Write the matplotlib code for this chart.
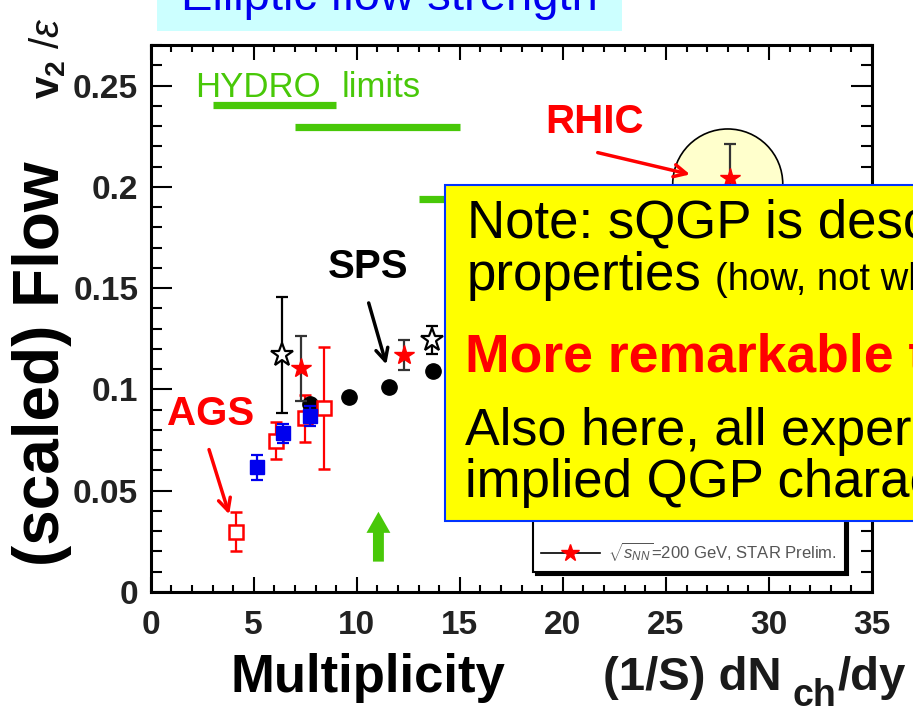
import matplotlib
matplotlib.use("Agg")
import matplotlib.pyplot as plt
from matplotlib.ticker import MultipleLocator, FixedLocator
from matplotlib.patches import Rectangle, Ellipse, FancyArrow
from matplotlib.lines import Line2D

plt.rcParams['font.family'] = ['Liberation Sans', 'DejaVu Sans']
plt.rcParams['mathtext.fontset'] = 'custom'
plt.rcParams['mathtext.rm'] = 'Liberation Sans'
plt.rcParams['mathtext.it'] = 'Liberation Sans:italic'
plt.rcParams['mathtext.bf'] = 'Liberation Sans:bold'

# ---- data: scaled elliptic flow v2/eps vs (1/S) dNch/dy ----
e895_x = [4.14, 6.08, 7.49, 8.41]
e895_y = [0.0298, 0.0747, 0.0857, 0.0907]
e895_err = [0.0098, 0.0090, 0.0115, 0.0300]

e877_x = [5.15, 6.44, 7.73]
e877_y = [0.0616, 0.0783, 0.0869]
e877_err = [0.0062, 0.0046, 0.0050]

na49_x = [7.73, 9.63, 11.57, 13.72]
na49_y = [0.0928, 0.0964, 0.1010, 0.1092]

star130_x = [6.36, 13.67]
star130_y = [0.1170, 0.1244]
star130_err = [0.0285, 0.0070]

star200_x = [7.30, 12.30, 28.10]
star200_y = [0.1104, 0.1170, 0.2042]
star200_err = [0.0160, 0.0073, 0.0170]

# hydro limit bands: (x_start, x_end, level)
hydro_x0 = [3.0, 7.0, 13.0]
hydro_x1 = [9.0, 15.0, 20.0]
hydro_y = [0.2405, 0.2295, 0.1940]

x_ticks = [0, 5, 10, 15, 20, 25, 30, 35]
y_ticks = [0, 0.05, 0.10, 0.15, 0.20, 0.25]
y_tick_labels = ['0', '0.05', '0.1', '0.15', '0.2', '0.25']

W, H = 913, 710
fig = plt.figure(figsize=(W / 100, H / 100), dpi=100)
fig.patch.set_facecolor('white')


def fx(px):
    return px / W


def fy(py):
    return 1 - py / H


ax = fig.add_axes([fx(150.7), fy(592), fx(872) - fx(150.7), fy(45) - fy(592)])
ax.set_xlim(0, 35)
ax.set_ylim(0, 0.27)

green = '#48C808'

# hydro limit bars
for a, b, y in zip(hydro_x0, hydro_x1, hydro_y):
    ax.plot([a, b], [y, y], color=green, lw=5.2, solid_capstyle='butt', zorder=2)
ax.text(2.15, 0.2443, 'HYDRO', color=green, fontsize=25, ha='left', va='baseline')
ax.text(9.28, 0.2443, 'limits', color=green, fontsize=25, ha='left', va='baseline')

# highlight circle around the RHIC point
ax.add_patch(Ellipse((28.0, 0.2014), 5.34, 0.0543, facecolor='#FFFFCC',
                     edgecolor='black', lw=1.2, zorder=1))

# green arrow
ax.add_patch(FancyArrow(11.05, 0.015, 0, 0.0246, width=0.53, head_width=1.16,
                        head_length=0.0104, length_includes_head=True,
                        color=green, lw=0, zorder=3))

ek = dict(capsize=4.5, elinewidth=1.6, capthick=1.6, ls='none')

ax.errorbar(e895_x, e895_y, yerr=e895_err, marker='s', ms=10, mfc='white',
            mec='red', mew=1.8, ecolor='red', zorder=4, **ek)
ax.errorbar(e877_x, e877_y, yerr=e877_err, marker='s', ms=10, mfc='#0000EE',
            mec='#0000EE', ecolor='#0000EE', zorder=5, **ek)
ax.plot(na49_x, na49_y, 'o', ms=11, color='black', ls='none', zorder=4)
ax.errorbar(star130_x, star130_y, yerr=star130_err, marker='*', ms=17,
            mfc='white', mec='black', mew=1.6, ecolor='black', zorder=4, **ek)
ax.errorbar(star200_x, star200_y, yerr=star200_err, marker='*', ms=15,
            mfc='red', mec='red', ecolor='#333333', zorder=6, **ek)

# axes styling
ax.xaxis.set_major_locator(FixedLocator(x_ticks))
ax.xaxis.set_minor_locator(MultipleLocator(1))
ax.yaxis.set_major_locator(FixedLocator(y_ticks))
ax.set_yticklabels(y_tick_labels)
ax.yaxis.set_minor_locator(MultipleLocator(0.01))
ax.tick_params(which='both', direction='in', top=True, right=True, width=1.5,
               colors='black', labelcolor='#222222')
ax.tick_params(axis='x', which='major', length=11, pad=13, labelsize=24)
ax.tick_params(axis='x', which='minor', length=5)
ax.tick_params(axis='y', which='major', length=15, pad=9, labelsize=24)
ax.tick_params(axis='y', which='minor', length=8)
for lab in ax.get_xticklabels() + ax.get_yticklabels():
    lab.set_fontweight('bold')
for s in ax.spines.values():
    s.set_linewidth(2.2)

# legend
handles = [
    Line2D([], [], marker='s', ms=8, mfc='white', mec='red', color='red', ls='none'),
    Line2D([], [], marker='s', ms=8, mfc='#0000EE', mec='#0000EE', ls='none'),
    Line2D([], [], marker='o', ms=8, color='black', ls='none'),
    Line2D([], [], marker='*', ms=13, mfc='white', mec='black', color='black', lw=1.2),
    Line2D([], [], marker='*', ms=13, mfc='red', mec='red', color='black', lw=1.2),
]
labels = ['E895, AGS', 'E877, AGS', 'NA49, SPS',
          r'$\sqrt{s_{NN}}$=130 GeV, STAR',
          r'$\sqrt{s_{NN}}$=200 GeV, STAR Prelim.']
leg = ax.legend(handles, labels, loc='lower right',
                bbox_to_anchor=(0.9626, 0.037), borderaxespad=0,
                fontsize=12, labelcolor='#555555', handlelength=3.5,
                handletextpad=0.5, labelspacing=1.0, borderpad=0.5,
                fancybox=False, edgecolor='black', framealpha=1,
                shadow={'color': 'black', 'alpha': 1, 'shade': 1.0})
leg.get_frame().set_linewidth(1.5)
leg.set_zorder(7)

# experiment labels with arrows
ax.text(0.79, 0.0824, 'AGS', color='red', fontsize=29, fontweight='bold',
        ha='left', va='baseline')
ax.annotate('', xy=(3.85, 0.037), xytext=(2.79, 0.0716),
            arrowprops=dict(arrowstyle='->', color='red', lw=2.5, mutation_scale=22))
ax.text(8.6, 0.155, 'SPS', color='black', fontsize=29, fontweight='bold',
        ha='left', va='baseline')
ax.annotate('', xy=(11.47, 0.111), xytext=(10.54, 0.144),
            arrowprops=dict(arrowstyle='->', color='black', lw=2.5, mutation_scale=22))
ax.text(19.13, 0.2266, 'RHIC', color='red', fontsize=29, fontweight='bold',
        ha='left', va='baseline')
ax.annotate('', xy=(26.3, 0.2058), xytext=(21.56, 0.2172),
            arrowprops=dict(arrowstyle='->', color='red', lw=2.5, mutation_scale=22))

# axis titles
fig.text(fx(42), fy(364), '(scaled) Flow', rotation=90, fontsize=46,
         fontweight='bold', ha='center', va='center', color='black')
fig.text(fx(48), fy(58), r'$\mathbf{v}_{\mathbf{2}}\ /\varepsilon$', rotation=90,
         fontsize=29, ha='center', va='center', color='#111111')
fig.text(fx(368), fy(692), 'Multiplicity', fontsize=38, fontweight='bold',
         ha='center', va='baseline', color='black')
fig.text(fx(603), fy(690), '(1/S) dN', fontsize=34, fontweight='bold',
         ha='left', va='baseline', color='#1a1a1a')
fig.text(fx(792), fy(706), 'ch', fontsize=27, fontweight='bold',
         ha='left', va='baseline', color='#1a1a1a')
fig.text(fx(838), fy(690), '/dy', fontsize=34, fontweight='bold',
         ha='left', va='baseline', color='#1a1a1a')

# title banner
fig.add_artist(Rectangle((fx(157), fy(31)), fx(622) - fx(157), fy(0) - fy(31),
                         transform=fig.transFigure, facecolor='#CCFFFF',
                         edgecolor='none', zorder=3))
fig.text(fx(389), fy(10), 'Elliptic flow strength', fontsize=34, color='#0000EE',
         ha='center', va='baseline', zorder=4)

# note box
fig.add_artist(Rectangle((fx(445), fy(521)), 0.6, fy(185) - fy(521),
                         transform=fig.transFigure, facecolor='#FFFF00',
                         edgecolor='#0033FF', lw=1.5, zorder=10))
tk = dict(ha='left', va='baseline', zorder=11)
fig.text(fx(467), fy(238), 'Note: sQGP is described by its', fontsize=38,
         color='black', **tk)
fig.text(fx(467), fy(290), 'properties', fontsize=38, color='black', **tk)
fig.text(fx(715), fy(290), '(how, not what it is)', fontsize=27.5, color='black', **tk)
fig.text(fx(465), fy(372), 'More remarkable than the flow itself', fontsize=38.5,
         fontweight='bold', color='#FF0000', **tk)
fig.text(fx(465), fy(445), 'Also here, all experiments see the', fontsize=37.5,
         color='black', **tk)
fig.text(fx(465), fy(497), 'implied QGP characteristics', fontsize=38,
         color='black', **tk)

fig.savefig('out.png', dpi=100)
